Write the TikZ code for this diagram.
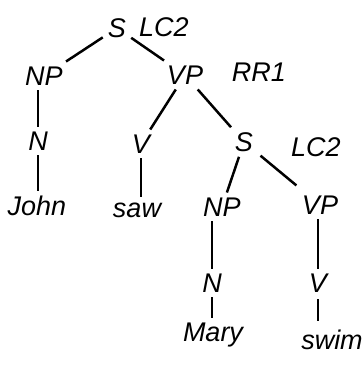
\documentclass[tikz,border=0pt]{standalone}
\usepackage{fontspec}
\setsansfont{Liberation Sans}
\usepackage{tikz}
\usetikzlibrary{positioning, calc}

\tikzset{
    cat/.style={font=\fontsize{27}{30}\selectfont\sffamily\itshape, inner sep=5pt},
    branch/.style={line width=2.5pt, shorten <=3pt, shorten >=8pt},
    stem/.style={line width=2.5pt, shorten <=2pt, shorten >=4pt}
}

\begin{document}
\begin{tikzpicture}[x=1pt, y=-1pt]
    \useasboundingbox (0, 0) rectangle (364, 375);

    \node[cat] (s0) at (117, 28) {S};
    \node[cat] (lc0) at (164, 27) {LC2};
    \node[cat] (np0) at (44, 76) {NP};
    \node[cat] (vp0) at (185, 75) {VP};
    \node[cat] (rr) at (259, 72) {RR1};
    \node[cat] (n0) at (38, 141) {N};
    \node[cat] (v0) at (141, 144) {V};
    \node[cat] (s1) at (244, 142) {S};
    \node[cat] (lc1) at (316, 147) {LC2};
    \node[cat] (john) at (37, 206) {John};
    \node[cat] (saw) at (137, 210) {saw};
    \node[cat] (np1) at (222, 207) {NP};
    \node[cat] (vp1) at (320, 205) {VP};
    \node[cat] (n1) at (212, 283) {N};
    \node[cat] (v1) at (318, 283) {V};
    \node[cat] (mary) at (213, 335) {Mary};
    \node[cat] (swim) at (332, 340) {swim};

    \draw[branch]
        (s0) -- (np0)
        (s0) -- (vp0)
        (vp0) -- (v0)
        (vp0) -- (s1)
        (s1) -- (np1)
        (s1) -- (vp1)
        ;
    \draw[stem]
        (np0.south -| n0) -- (n0.north)
        (n0.south) -- (n0.south |- john.north)
        (v0.south) -- (v0.south |- saw.north)
        (np1.south -| n1) -- (n1.north)
        (n1.south) -- (n1.south |- mary.north)
        (vp1.south -| v1) -- (v1.north)
        (v1.south) -- (v1.south |- swim.north)
        ;
\end{tikzpicture}
\end{document}
